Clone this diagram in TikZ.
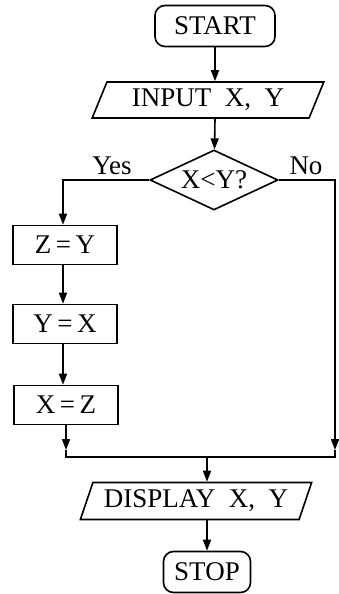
\documentclass[tikz,border=0pt]{standalone}
\usepackage{fontspec}
\setmainfont{Liberation Serif}
\usetikzlibrary{arrows.meta, shapes.geometric}

\begin{document}
\begin{tikzpicture}[x=1pt, y=-1pt,
    every node/.style={font=\fontsize{27}{30}\selectfont},
    terminal/.style={draw, line width=1.6pt, rounded corners=10pt, inner sep=0pt},
    io/.style={draw, line width=1.6pt, trapezium, trapezium left angle=63,
      trapezium right angle=117, trapezium stretches=true, inner sep=0pt},
    process/.style={draw, line width=1.6pt, inner sep=0pt, minimum width=104pt, minimum height=39pt},
    decision/.style={draw, line width=1.6pt, diamond, aspect=2.13, inner sep=0pt,
      minimum width=128pt, minimum height=60pt},
    flow/.style={line width=1.6pt, -{Triangle[length=11pt, width=8pt]}},
    link/.style={line width=1.6pt}]
  \useasboundingbox (0,0) rectangle (338,594);

  % Main column
  \node[terminal, minimum width=120pt, minimum height=41pt] (start) at (215,26) {START};
  \node[io, minimum width=232pt, minimum height=36pt] (input) at (208,100) {INPUT\ \ X, \ Y};
  \node[decision] (test) at (214,180) {X<Y?};

  % Yes branch (swap)
  \node[process] (zy) at (65,245) {Z\,=\,Y};
  \node[process] (yx) at (65,324) {Y\,=\,X};
  \node[process] (xz) at (66,405) {X\,=\,Z};

  % Output and end
  \node[io, minimum width=232pt, minimum height=37pt] (display) at (196,501) {DISPLAY\ \ X, \ Y};
  \node[terminal, minimum width=87pt, minimum height=41pt] (stop) at (207,572) {STOP};

  % Branch labels
  \node (yes) at (112,166) {Yes};
  \node (no) at (306,166) {No};

  % Joining points
  \coordinate (yesturn) at (63,180);
  \coordinate (noturn) at (335,180);
  \coordinate (leftend) at (66,450);
  \coordinate (rightend) at (335,450);
  \coordinate (joinL) at (66,457);
  \coordinate (joinR) at (335,457);
  \coordinate (joinM) at (207,457);

  \draw[flow] (start.south) -- (start.south |- input.north);
  \draw[flow] (input.south -| start) -- (test);
  \draw[flow] (test.west) -- (yesturn) -- (zy.north -| yesturn);
  \draw[flow] (zy.south -| yesturn) -- (yx.north -| yesturn);
  \draw[flow] (yx.south -| yesturn) -- (xz.north -| yesturn);
  \draw[flow] (xz.south -| leftend) -- (leftend);
  \draw[flow] (test.east) -- (noturn) -- (rightend);
  \draw[link] (leftend) -- (joinL) -- (joinR) -- (rightend);
  \draw[flow] (joinM) -- (display.north -| joinM);
  \draw[flow] (display.south -| joinM) -- (stop);
\end{tikzpicture}
\end{document}
